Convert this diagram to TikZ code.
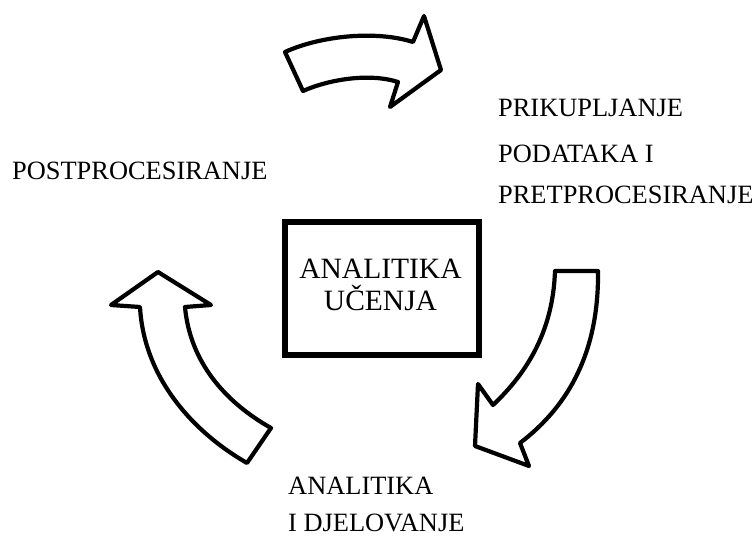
\documentclass[tikz,border=0pt]{standalone}
\usepackage{fontspec}
\setmainfont{Liberation Serif}
\begin{document}
\begin{tikzpicture}[x=1pt,y=-1pt,
  lbl/.style={inner sep=0pt, font=\fontsize{26.4}{30}\selectfont},
  boxtext/.style={inner sep=0pt, font=\fontsize{29.5}{33}\selectfont},
  bigarrow/.style={draw=black, line width=4.2pt, line join=round, fill=white},
  mainbox/.style={draw=black, line width=6pt, minimum width=194pt, minimum height=133pt, inner sep=0pt}]
\useasboundingbox[fill=white] (0,0) rectangle (753,537);

% central box
\node[mainbox] (box) at (382,288.5) {};
\node[boxtext, anchor=base] (t1) at (380.5,278.5) {ANALITIKA};
\node[boxtext, anchor=base] (t2) at (380.5,310.5) {UČENJA};

% labels
\node[lbl, anchor=base west] (post) at (12,179.3) {POSTPROCESIRANJE};
\node[lbl, anchor=base west] (pr1) at (498,116.7) {PRIKUPLJANJE};
\node[lbl, anchor=base west] (pr2) at (498,162.3) {PODATAKA I};
\node[lbl, anchor=base west] (pr3) at (498,204) {PRETPROCESIRANJE};
\node[lbl, anchor=base west] (an1) at (288,494.3) {ANALITIKA};
\node[lbl, anchor=base west] (an2) at (288,531) {I DJELOVANJE};

% top arrow
\draw[bigarrow] (285,52) .. controls (320,36) and (375,30) .. (413,42)
  -- (424,16) -- (441,70) -- (390,107) -- (398,82)
  .. controls (370,73) and (330,79) .. (303,91) -- cycle;

% right arrow
\draw[bigarrow] (555,271) -- (598,271)
  .. controls (599,350) and (570,405) .. (520,443)
  -- (529,466) -- (475,446) -- (478,384) -- (493,405)
  .. controls (528,372) and (553,330) .. cycle;

% left arrow
\draw[bigarrow] (158,272) -- (211,305) -- (185,307)
  .. controls (190,362) and (225,402) .. (271,428)
  -- (247,463)
  .. controls (193,432) and (144,378) .. (140,307)
  -- (111,305) -- cycle;
\end{tikzpicture}
\end{document}
